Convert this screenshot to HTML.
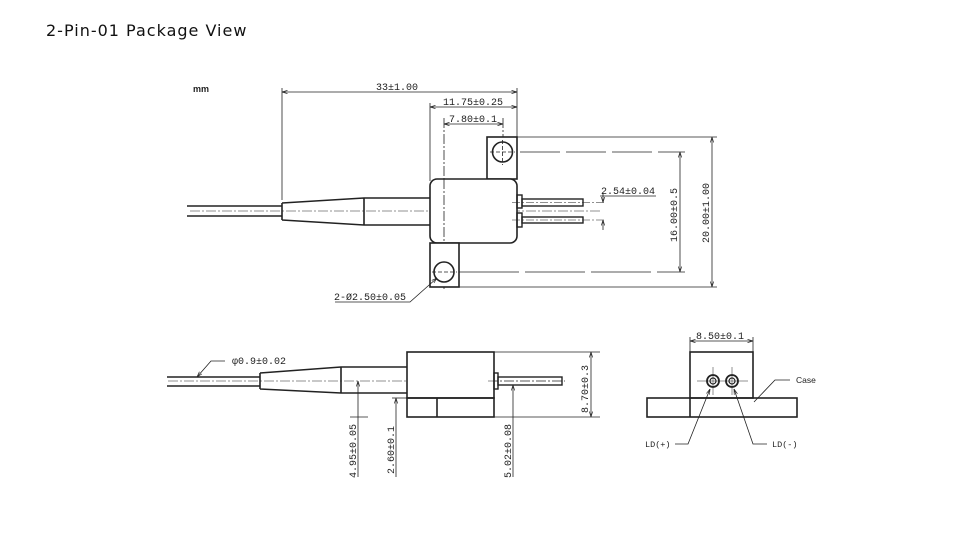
<!DOCTYPE html>
<html><head><meta charset="utf-8"><style>
html,body{margin:0;padding:0;background:#fff;}
body{width:954px;height:536px;overflow:hidden;position:relative;}
.t{position:absolute;left:46px;top:21px;font-family:"DejaVu Sans","Liberation Sans",sans-serif;font-size:16px;letter-spacing:1px;color:#111;}
svg{position:absolute;left:0;top:0;}
text{font-family:"Liberation Mono","DejaVu Sans Mono",monospace;font-size:10px;fill:#222;}
</style></head><body>
<div class="t">2-Pin-01 Package View</div>
<svg width="954" height="536" viewBox="0 0 954 536">
<defs>
<marker id="a" viewBox="0 0 10 10" refX="10" refY="5" markerWidth="7" markerHeight="7" orient="auto-start-reverse"><path d="M0,2 L10,5 L0,8" fill="none" stroke="#222" stroke-width="1.2"/></marker>
</defs>
<g stroke="#222" fill="none" stroke-width="0.8">
<text x="193" y="92" stroke="none" style="font-family:'Liberation Sans',sans-serif;font-weight:bold;font-size:9px">mm</text>
<line x1="282" y1="92" x2="517" y2="92" marker-start="url(#a)" marker-end="url(#a)"/>
<line x1="282" y1="88" x2="282" y2="200"/>
<line x1="517" y1="88" x2="517" y2="137"/>
<text x="376" y="90" stroke="none">33±1.00</text>
<line x1="430" y1="107" x2="517" y2="107" marker-start="url(#a)" marker-end="url(#a)"/>
<line x1="430" y1="103" x2="430" y2="181"/>
<text x="443" y="105" stroke="none">11.75±0.25</text>
<line x1="444" y1="124" x2="503" y2="124" marker-start="url(#a)" marker-end="url(#a)"/>
<line x1="444" y1="118" x2="444" y2="290" stroke-dasharray="10,2,2,2"/>
<line x1="503" y1="118" x2="503" y2="166" stroke-dasharray="10,2,2,2"/>
<text x="449" y="122" stroke="none">7.80±0.1</text>
<rect x="487" y="137" width="30" height="42" stroke-width="1.6" fill="#fff"/>
<circle cx="502.5" cy="152" r="10" stroke-width="1.6"/>
<line x1="490" y1="152" x2="515" y2="152" stroke-dasharray="4,2"/>
<line x1="502.5" y1="140" x2="502.5" y2="165" stroke-dasharray="4,2"/>
<line x1="187" y1="206" x2="282" y2="206" stroke-width="1.4"/>
<line x1="187" y1="216" x2="282" y2="216" stroke-width="1.4"/>
<path d="M282,203 L364,198 L430,198 M282,220 L364,225 L430,225 M282,203 L282,220 M364,198 L364,225" stroke-width="1.6"/>
<line x1="190" y1="211" x2="600" y2="211" stroke-dasharray="10,2,2,2" stroke-width="0.6"/>
<rect x="430" y="179" width="87" height="64" rx="7" stroke-width="1.6" fill="#fff"/>
<line x1="444" y1="179" x2="444" y2="290" stroke-dasharray="10,2,2,2"/>
<rect x="430" y="243" width="29" height="44" stroke-width="1.6" fill="#fff"/>
<circle cx="444" cy="272" r="10" stroke-width="1.6"/>
<line x1="432" y1="272" x2="457" y2="272" stroke-dasharray="4,2"/>
<rect x="517" y="195" width="5" height="13" stroke-width="1.4"/>
<rect x="517" y="213" width="5" height="14" stroke-width="1.4"/>
<rect x="522" y="199" width="61" height="7" stroke-width="1.4"/>
<rect x="522" y="217" width="61" height="6" stroke-width="1.4"/>
<line x1="512" y1="202.5" x2="606" y2="202.5" stroke-dasharray="8,2,2,2" stroke-width="0.6"/>
<line x1="512" y1="220" x2="606" y2="220" stroke-dasharray="8,2,2,2" stroke-width="0.6"/>
<line x1="603" y1="193" x2="603" y2="202.5" marker-end="url(#a)"/>
<line x1="603" y1="230" x2="603" y2="220" marker-end="url(#a)"/>
<text x="601" y="194" stroke="none">2.54±0.04</text>
<line x1="600" y1="196" x2="656" y2="196"/>
<line x1="517" y1="137" x2="717" y2="137"/>
<line x1="520" y1="152" x2="685" y2="152" stroke-dasharray="40,6"/>
<line x1="459" y1="272" x2="685" y2="272" stroke-dasharray="60,6"/>
<line x1="459" y1="287" x2="717" y2="287"/>
<line x1="680" y1="152" x2="680" y2="272" marker-start="url(#a)" marker-end="url(#a)"/>
<line x1="712" y1="137" x2="712" y2="287" marker-start="url(#a)" marker-end="url(#a)"/>
<text transform="translate(677,242) rotate(-90)" stroke="none">16.00±0.5</text>
<text transform="translate(709,243) rotate(-90)" stroke="none">20.00±1.00</text>
<text x="334" y="300" stroke="none">2-Ø2.50±0.05</text>
<path d="M335,302 L410,302 L437,278" marker-end="url(#a)"/>

<line x1="167" y1="377" x2="260" y2="377" stroke-width="1.4"/>
<line x1="167" y1="386" x2="260" y2="386" stroke-width="1.4"/>
<path d="M260,373 L341,367 L407,367 M260,389 L341,393 L407,393 M260,373 L260,389 M341,367 L341,393" stroke-width="1.6"/>
<line x1="168" y1="381" x2="565" y2="381" stroke-dasharray="10,2,2,2" stroke-width="0.6"/>
<rect x="407" y="352" width="87" height="46" stroke-width="1.6" fill="#fff"/>
<rect x="407" y="398" width="87" height="19" stroke-width="1.6"/>
<line x1="437" y1="398" x2="437" y2="417" stroke-width="1.6"/>
<rect x="494" y="373" width="4" height="16" stroke-width="1.4"/>
<rect x="498" y="377" width="64" height="8" stroke-width="1.4"/>
<line x1="488" y1="381" x2="565" y2="381" stroke-dasharray="10,2,2,2" stroke-width="0.6"/>
<line x1="494" y1="352" x2="600" y2="352"/>
<line x1="494" y1="417" x2="600" y2="417"/>
<line x1="591" y1="352" x2="591" y2="417" marker-start="url(#a)" marker-end="url(#a)"/>
<text transform="translate(588,413) rotate(-90)" stroke="none">8.70±0.3</text>
<line x1="350" y1="417" x2="368" y2="417"/>
<line x1="358" y1="477" x2="358" y2="381" marker-end="url(#a)"/>
<text transform="translate(356,478) rotate(-90)" stroke="none">4.95±0.05</text>
<line x1="392" y1="398" x2="407" y2="398"/>
<line x1="396" y1="477" x2="396" y2="398" marker-end="url(#a)"/>
<text transform="translate(394,474) rotate(-90)" stroke="none">2.60±0.1</text>
<line x1="513" y1="477" x2="513" y2="385" marker-end="url(#a)"/>
<text transform="translate(511,478) rotate(-90)" stroke="none">5.02±0.08</text>
<text x="232" y="364" stroke="none">φ0.9±0.02</text>
<path d="M225,361 L211,361 L197,377" marker-end="url(#a)"/>

<line x1="690" y1="341" x2="753" y2="341" marker-start="url(#a)" marker-end="url(#a)"/>
<line x1="690" y1="337" x2="690" y2="352"/>
<line x1="753" y1="337" x2="753" y2="352"/>
<text x="696" y="339" stroke="none">8.50±0.1</text>
<rect x="690" y="352" width="63" height="46" stroke-width="1.6"/>
<rect x="647" y="398" width="150" height="19" stroke-width="1.6"/>
<line x1="690" y1="398" x2="690" y2="417" stroke-width="1.6"/>
<circle cx="713" cy="381" r="6" stroke-width="1.8"/>
<circle cx="713" cy="381" r="3" stroke-width="1.2"/>
<circle cx="732" cy="381" r="6" stroke-width="1.8"/>
<circle cx="732" cy="381" r="3" stroke-width="1.2"/>
<path d="M697,381 L748,381 M713,367 L713,395 M732,367 L732,395" stroke-width="0.5"/>
<text x="796" y="383" stroke="none" style="font-family:'Liberation Sans',sans-serif;font-size:8.5px">Case</text>
<path d="M790,380 L775,380 L754,402"/>
<text x="645" y="447" stroke="none" style="font-size:8.5px">LD(+)</text>
<path d="M675,444 L688,444 L710,389" marker-end="url(#a)"/>
<text x="772" y="447" stroke="none" style="font-size:8.5px">LD(-)</text>
<path d="M767,444 L753,444 L734,389" marker-end="url(#a)"/>
</g>
</svg>
</body></html>
